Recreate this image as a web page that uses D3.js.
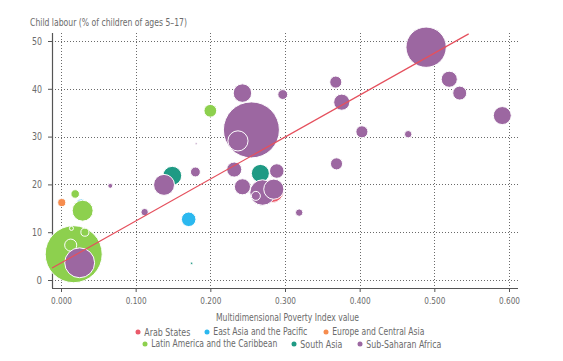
<!DOCTYPE html>
<html>
<head>
<meta charset="utf-8">
<script src="https://cdn.jsdelivr.net/npm/d3@7"></script>
<style>
  body { margin: 0; background: #fff; }
  svg { display: block; }
  text { font-family: "Liberation Sans Narrow", "DejaVu Sans Condensed", "Liberation Sans", sans-serif; fill: #6b6b6b; }
</style>
</head>
<body>
<svg id="chart" width="563" height="361"></svg>
<script>
// 지역 (범례 순서 = 그리는 순서)
var regions = ["Arab States", "East Asia and the Pacific", "Europe and Central Asia",
               "Latin America and the Caribbean", "South Asia", "Sub-Saharan Africa"];
var regionColors = ["#ea5a6a", "#2bb8ef", "#f68c4e", "#8dd04e", "#1f9a84", "#9c67a1"];

// 국가별 값: 지역 번호, MPI 값, 아동노동 비율(%), 인구(버블 크기)
var pointRegion = [0,
                   1, 1,
                   2,
                   3, 3, 3, 3, 3, 3, 3,
                   4, 4, 4,
                   5, 5, 5, 5, 5, 5, 5, 5, 5, 5, 5, 5, 5, 5, 5, 5, 5, 5, 5, 5, 5, 5, 5, 5, 5, 5];
var pointMpi = [0.283,
                0.171, 0.027,
                0.001,
                0.017, 0.029, 0.019, 0.200, 0.013, 0.032, 0.014,
                0.149, 0.267, 0.175,
                0.025, 0.066, 0.112, 0.138, 0.180, 0.181, 0.232, 0.243, 0.270, 0.285, 0.261,
                0.289, 0.319, 0.255, 0.237, 0.243, 0.297, 0.369, 0.368, 0.376, 0.403, 0.465,
                0.489, 0.520, 0.534, 0.591];
var pointLabour = [18.6,
                   12.7, 15.9,
                   16.2,
                   5.4, 14.5, 18.0, 35.4, 7.3, 10.0, 10.8,
                   21.8, 22.3, 3.5,
                   3.6, 19.7, 14.2, 19.9, 22.6, 28.5, 23.1, 19.5, 18.3, 19.0, 17.6,
                   22.8, 14.1, 31.4, 29.1, 39.1, 38.8, 24.3, 41.4, 37.2, 31.0, 30.5,
                   48.7, 42.0, 39.1, 34.4];
var pointPop = [32,
                13, 6,
                4,
                200, 27, 4.5, 10, 9, 4, 1,
                22, 20, 0.35,
                55, 1.5, 3.4, 27, 6, 0.25, 14, 16, 40, 25, 5,
                13, 3.4, 193, 25, 21, 6, 9, 9, 16, 9, 3.4,
                100, 16, 12, 20];

// 추세선
var trendSlope = 87.8;
var trendIntercept = 3.55;
var trendRange = [-0.012, 0.546];

var xTicks = [0, 0.1, 0.2, 0.3, 0.4, 0.5, 0.6];
var yTicks = [0, 10, 20, 30, 40, 50];

var yTitle = "Child labour (% of children of ages 5\u201317)";
var xTitle = "Multidimensional Poverty Index value";

var svg = d3.select("#chart");

var plot = {left: 52, right: 518, top: 33, bottom: 288};

var x = d3.scaleLinear().domain([0, 0.6]).range([61, 509]);
var y = d3.scaleLinear().domain([0, 50]).range([280, 41]);
var r = d3.scaleSqrt().domain([0, 200]).range([0, 28.5]);
var color = d3.scaleOrdinal().domain(d3.range(regions.length)).range(regionColors);

// 글자 폭 맞추기: 글꼴 크기를 먼저 맞추고 남는 차이만 textLength 로
var fitText = function(sel, width, maxSize) {
  sel.each(function() {
    var t = d3.select(this).style("font-size", "10px");
    var w = typeof width === "function" ? width.apply(this, arguments) : width;
    var natural = this.getComputedTextLength();
    var fs = Math.min(maxSize, 10 * w * 1.15 / natural);
    t.style("font-size", fs + "px")
     .attr("textLength", w)
     .attr("lengthAdjust", "spacingAndGlyphs");
  });
};

// 격자선
var grid = svg.append("g").attr("stroke", "#6a6a6a").attr("stroke-width", 1)
              .attr("stroke-dasharray", "1,2");
grid.selectAll(".gx").data(xTicks).enter().append("line")
    .attr("x1", function(d) { return Math.round(x(d)) + 0.5; })
    .attr("x2", function(d) { return Math.round(x(d)) + 0.5; })
    .attr("y1", plot.top).attr("y2", plot.bottom);
grid.selectAll(".gy").data(yTicks).enter().append("line")
    .attr("y1", function(d) { return Math.round(y(d)) + 0.5; })
    .attr("y2", function(d) { return Math.round(y(d)) + 0.5; })
    .attr("x1", plot.left).attr("x2", plot.right);

// 축
var yAxis = svg.append("g")
    .attr("transform", "translate(" + plot.left + ",0)")
    .call(d3.axisLeft(y).tickValues(yTicks).tickSize(4).tickPadding(6).tickFormat(d3.format("d")));
var xAxis = svg.append("g")
    .attr("transform", "translate(0," + plot.bottom + ")")
    .call(d3.axisBottom(x).tickValues(xTicks).tickSize(4).tickPadding(5).tickFormat(d3.format(".3f")));

[yAxis, xAxis].forEach(function(a) {
  a.select(".domain").remove();
  a.selectAll(".tick line").attr("stroke", "#555");
  a.selectAll(".tick text").attr("fill", "#6b6b6b")
   .style("font-family", "'Liberation Sans Narrow', 'DejaVu Sans Condensed', sans-serif");
});
fitText(xAxis.selectAll(".tick text"), 21, 12);
fitText(yAxis.selectAll(".tick text"), function(d) { return d === 0 ? 5.5 : 10; }, 12);

svg.append("line").attr("x1", plot.left + 0.5).attr("x2", plot.left + 0.5)
   .attr("y1", plot.top).attr("y2", plot.bottom).attr("stroke", "#555").attr("stroke-width", 1.2);
svg.append("line").attr("x1", plot.left).attr("x2", plot.right)
   .attr("y1", plot.bottom + 0.5).attr("y2", plot.bottom + 0.5).attr("stroke", "#555").attr("stroke-width", 1.2);

// 버블
var points = pointMpi.map(function(d, i) {
  return {region: pointRegion[i], mpi: d, labour: pointLabour[i], pop: pointPop[i]};
});
points.sort(function(a, b) { return a.region - b.region || b.pop - a.pop; });

svg.append("g").selectAll("circle")
   .data(points)
   .enter()
   .append("circle")
   .attr("cx", function(d) { return x(d.mpi); })
   .attr("cy", function(d) { return y(d.labour); })
   .attr("r", function(d) { return r(d.pop); })
   .attr("fill", function(d) { return color(d.region); })
   .attr("stroke", "#fff")
   .attr("stroke-width", 1);

// 추세선
var line = d3.line()
             .x(function(d) { return x(d); })
             .y(function(d) { return y(trendIntercept + trendSlope * d); });
svg.append("path")
   .datum(trendRange)
   .attr("fill", "none")
   .attr("stroke", "#e5505d")
   .attr("stroke-width", 1.2)
   .attr("d", line);

// 제목
fitText(svg.append("text").attr("x", 30).attr("y", 26).text(yTitle), 157, 11.5);
fitText(svg.append("text").attr("x", 216).attr("y", 321).text(xTitle), 143, 11.5);

// 범례 (점 위치, 글자 폭)
var legendX = [138, 207, 326, 145, 294, 360];
var legendRowY = [332, 332, 332, 344, 344, 344];
var legendTextW = [46, 94, 92, 126, 42, 75];

var legend = svg.append("g").selectAll("g")
                .data(d3.range(regions.length))
                .enter()
                .append("g")
                .attr("transform", function(d) { return "translate(" + legendX[d] + "," + legendRowY[d] + ")"; });
legend.append("circle").attr("r", 2.5)
      .attr("fill", function(d) { return color(d); });
fitText(legend.append("text").attr("x", 6.3).attr("dy", "0.35em")
              .text(function(d) { return regions[d]; }),
        function(d) { return legendTextW[d]; }, 11.5);
</script>
</body>
</html>
